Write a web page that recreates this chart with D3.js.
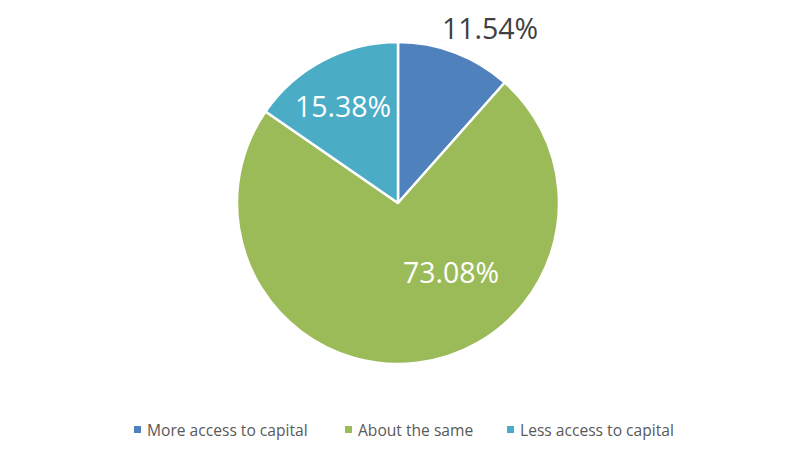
<!DOCTYPE html>
<html><head><meta charset="utf-8">
<script src="https://cdn.jsdelivr.net/npm/d3@7"></script>
<style>body{margin:0;background:#fff}svg{display:block}text{font-family:"Open Sans","Liberation Sans",sans-serif}</style>
</head><body>
<svg id="c" width="793" height="454"></svg>
<script>
const categories = ["More access to capital", "About the same", "Less access to capital"];
const values = [11.54, 73.08, 15.38];
const labels = ["11.54%", "73.08%", "15.38%"];
const colors = ["#4F81BD", "#9BBB59", "#4BACC6"];

const svg = d3.select("#c");
const cx = 398, cy = 203, r = 161;
const g = svg.append("g").attr("transform", `translate(${cx},${cy})`);
const pie = d3.pie().sort(null).value(d => d)(values);
const arc = d3.arc().innerRadius(0).outerRadius(r);
g.selectAll("path").data(pie).enter().append("path")
  .attr("d", arc).attr("fill", (d, i) => colors[i])
  .attr("stroke", "#fff").attr("stroke-width", 2.5).attr("stroke-linejoin", "round");

// label anchor offsets relative to pie centre (layout)
const labelOffset = [[92, -174], [53, 70], [-55, -96]];
g.selectAll("text.lbl").data(pie).enter().append("text")
  .attr("class", "lbl")
  .attr("transform", (d, i) => `translate(${labelOffset[i][0]},${labelOffset[i][1]})`)
  .attr("text-anchor", "middle").attr("dy", "0.36em")
  .attr("font-size", 28.5)
  .attr("fill", (d, i) => i === 0 ? "#404040" : "#fff")
  .text((d, i) => labels[i]);

// legend
const legX = [134, 345, 507];
const lg = svg.append("g");
categories.forEach((c, i) => {
  lg.append("rect").attr("x", legX[i]).attr("y", 426).attr("width", 7).attr("height", 7).attr("fill", colors[i]);
  lg.append("text").attr("x", legX[i] + 13).attr("y", 436).attr("font-size", 15.6).attr("fill", "#595959").text(c);
});
</script>
</body></html>
